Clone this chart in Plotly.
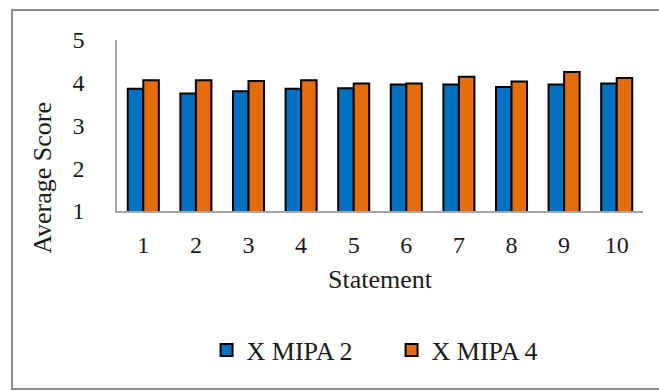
import plotly.graph_objects as go

statements = ["1", "2", "3", "4", "5", "6", "7", "8", "9", "10"]
mipa2 = [3.86, 3.75, 3.80, 3.86, 3.87, 3.96, 3.96, 3.90, 3.96, 3.98]
mipa4 = [4.06, 4.06, 4.04, 4.06, 3.98, 3.98, 4.14, 4.03, 4.25, 4.11]
y_ticks = [1, 2, 3, 4, 5]

FONT = "Liberation Serif"
TICK_SIZE = 24
TEXT_SIZE = 26
AXIS_GREY = "#A6A6A6"

fig = go.Figure()
fig.add_trace(go.Bar(
    x=statements, y=mipa2, name="X MIPA 2",
    marker=dict(color="#0070C0", line=dict(color="black", width=2)),
))
fig.add_trace(go.Bar(
    x=statements, y=mipa4, name="X MIPA 4",
    marker=dict(color="#E46C0A", line=dict(color="black", width=2)),
))

fig.update_layout(
    width=659, height=391,
    margin=dict(l=117, r=16, t=40, b=180),
    paper_bgcolor="white", plot_bgcolor="white",
    font=dict(family=FONT, size=TICK_SIZE, color="#1a1a1a"),
    barmode="group", bargap=0.41, bargroupgap=0,
    showlegend=True,
    legend=dict(
        orientation="h", x=0.522, xanchor="center", y=-0.813, yanchor="middle",
        font=dict(family=FONT, size=TEXT_SIZE), entrywidth=140, itemwidth=30,
        bgcolor="rgba(0,0,0,0)",
    ),
    xaxis=dict(
        type="category", showgrid=False, showline=True, linecolor=AXIS_GREY,
        linewidth=1.5, ticks="", ticklabelstandoff=11,
        tickfont=dict(family=FONT, size=TICK_SIZE),
        title=dict(text="Statement", font=dict(family=FONT, size=TEXT_SIZE), standoff=13),
    ),
    yaxis=dict(
        range=[1, 5], tickvals=y_ticks, showgrid=False, showline=True,
        linecolor=AXIS_GREY, linewidth=1.5, ticks="", ticklabelstandoff=26,
        tickfont=dict(family=FONT, size=TICK_SIZE), zeroline=False,
    ),
    annotations=[dict(
        text="Average Score", textangle=-90, xref="paper", yref="paper",
        x=-0.141, y=0.193, xanchor="center", yanchor="middle", showarrow=False,
        font=dict(family=FONT, size=TEXT_SIZE, color="#1a1a1a"),
    )],
    shapes=[dict(
        type="rect", xref="paper", yref="paper",
        x0=-0.1996, x1=1.045, y0=-1.041, y1=1.175,
        line=dict(color="#8C8C8C", width=2), fillcolor="rgba(0,0,0,0)", layer="below",
    )],
)

fig.write_html("out.html")
